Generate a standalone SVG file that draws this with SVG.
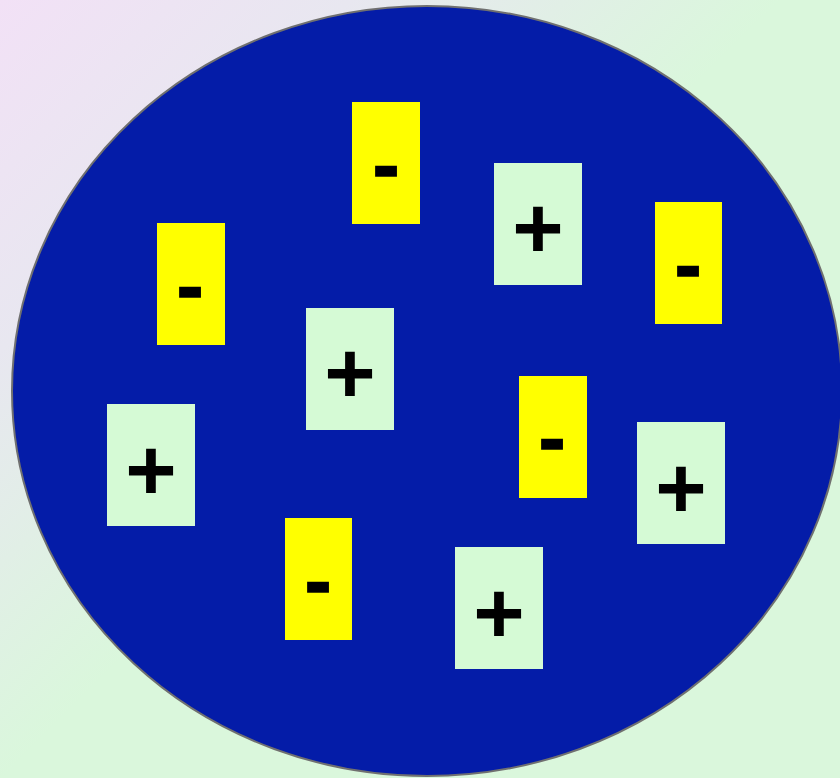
<svg xmlns="http://www.w3.org/2000/svg" width="840" height="778" viewBox="0 0 840 778">
<defs>
<linearGradient id="bg" gradientUnits="userSpaceOnUse" x1="0" y1="0" x2="390" y2="390">
<stop offset="0" stop-color="#F2E1F6"/>
<stop offset="0.45" stop-color="#E8E7F0"/>
<stop offset="1" stop-color="#DAF7DC"/>
</linearGradient>
<style>
.neg rect{fill:#FFFF00}
.pos rect{fill:#D5FAD5}
text{font-family:"Liberation Sans",Arial,sans-serif;font-weight:bold;fill:#000;text-anchor:middle}
.neg text{font-size:80px;stroke:#000;stroke-width:1.5}
.pos text{font-size:88px}
</style>
</defs>
<rect width="840" height="778" fill="url(#bg)"/>
<ellipse id="cell" cx="427" cy="391" rx="415" ry="385" fill="#041CA8" stroke="#707070" stroke-width="2"/>
<g id="n1" class="neg"><rect x="352" y="102" width="68" height="122"/><text x="386" y="192">-</text></g>
<g id="p1" class="pos"><rect x="494" y="163" width="88" height="122"/><text x="538" y="258">+</text></g>
<g id="n2" class="neg"><rect x="655" y="202" width="67" height="122"/><text x="688" y="292">-</text></g>
<g id="n3" class="neg"><rect x="157" y="223" width="68" height="122"/><text x="190" y="313">-</text></g>
<g id="p2" class="pos"><rect x="306" y="308" width="88" height="122"/><text x="350" y="403">+</text></g>
<g id="n4" class="neg"><rect x="519" y="376" width="68" height="122"/><text x="552" y="465">-</text></g>
<g id="p3" class="pos"><rect x="107" y="404" width="88" height="122"/><text x="151" y="500">+</text></g>
<g id="p4" class="pos"><rect x="637" y="422" width="88" height="122"/><text x="681" y="518">+</text></g>
<g id="n5" class="neg"><rect x="285" y="518" width="67" height="122"/><text x="318" y="608">-</text></g>
<g id="p5" class="pos"><rect x="455" y="547" width="88" height="122"/><text x="499" y="643">+</text></g>
<g id="connectors"></g>
</svg>
